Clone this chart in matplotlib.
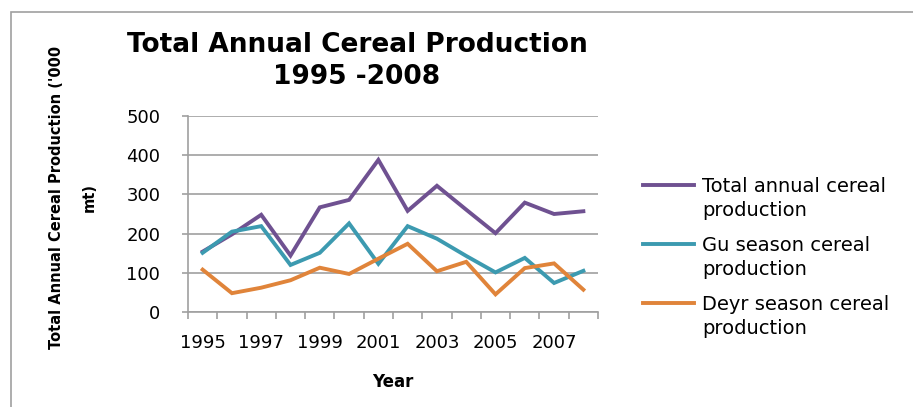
import matplotlib.pyplot as plt
from matplotlib.patches import Rectangle

years = list(range(1995, 2009))
total = [154, 198, 248, 144, 267, 286, 388, 258, 322, 261, 201, 279, 250, 257]
gu = [151, 205, 219, 120, 151, 226, 123, 219, 187, 143, 101, 138, 74, 105]
deyr = [108, 48, 62, 81, 113, 97, 136, 174, 104, 128, 45, 112, 124, 57]

labels = ['Total annual cereal\nproduction', 'Gu season cereal\nproduction', 'Deyr season cereal\nproduction']
colors = ['#6F5191', '#3C9AB0', '#E0843A']
grey = '#A0A0A0'

fig = plt.figure(figsize=(9.13, 4.07), dpi=100)
ax = fig.add_axes([188 / 913, 1 - 312 / 407, 410 / 913, 196 / 407])

x = list(range(len(years)))
for vals, lab, c in zip([total, gu, deyr], labels, colors):
    ax.plot(x, vals, color=c, lw=2.8, label=lab, solid_joinstyle='miter')

ax.set_xlim(-0.5, len(years) - 0.5)
ax.set_ylim(0, 500)
ax.set_yticks([0, 100, 200, 300, 400, 500])
ax.yaxis.grid(True, color=grey, lw=1.2)
ax.set_axisbelow(True)

# ticks between categories, labels every other year
ax.set_xticks([i - 0.5 for i in range(len(years) + 1)])
ax.set_xticklabels([])
ax.set_xticks(x[::2], minor=True)
ax.set_xticklabels([str(y) for y in years[::2]], minor=True, fontsize=13)
ax.tick_params(axis='x', which='major', length=5, color=grey, width=1.2)
ax.tick_params(axis='x', which='minor', length=0, pad=16)
ax.tick_params(axis='y', length=4, color=grey, width=1.2, labelsize=13, pad=16)

for s in ['top', 'right']:
    ax.spines[s].set_visible(False)
for s in ['left', 'bottom']:
    ax.spines[s].set_color(grey)
    ax.spines[s].set_linewidth(1.2)

ax.set_xlabel('Year', fontsize=12, fontweight='bold', labelpad=15)
fig.text(357 / 913, 1 - 61 / 407, 'Total Annual Cereal Production\n1995 -2008',
         ha='center', va='center', fontsize=19, fontweight='bold', linespacing=1.25)
fig.text(73 / 913, 1 - 197 / 407, "Total Annual Cereal Production ('000\nmt)",
         ha='center', va='center', rotation=90, fontsize=10.5, fontweight='bold',
         linespacing=2.45)

leg = fig.legend(loc='upper left', bbox_to_anchor=(643 / 913, 1 - 177 / 407),
                 frameon=False, fontsize=14, handlelength=2.6, handletextpad=0.45,
                 labelspacing=0.8, borderpad=0, borderaxespad=0)
for t in leg.get_texts():
    t.set_linespacing(1.35)
# keep each legend line level with the first row of its label
for h in leg.legend_handles:
    h.set_ydata([y + 10 for y in h.get_ydata()])

fig.patches.append(Rectangle((10.5 / 913, -0.1), 1.2, 1.1 - 12 / 407,
                             transform=fig.transFigure, fill=False,
                             edgecolor=grey, lw=1.2))

plt.savefig('out.png', dpi=100)
